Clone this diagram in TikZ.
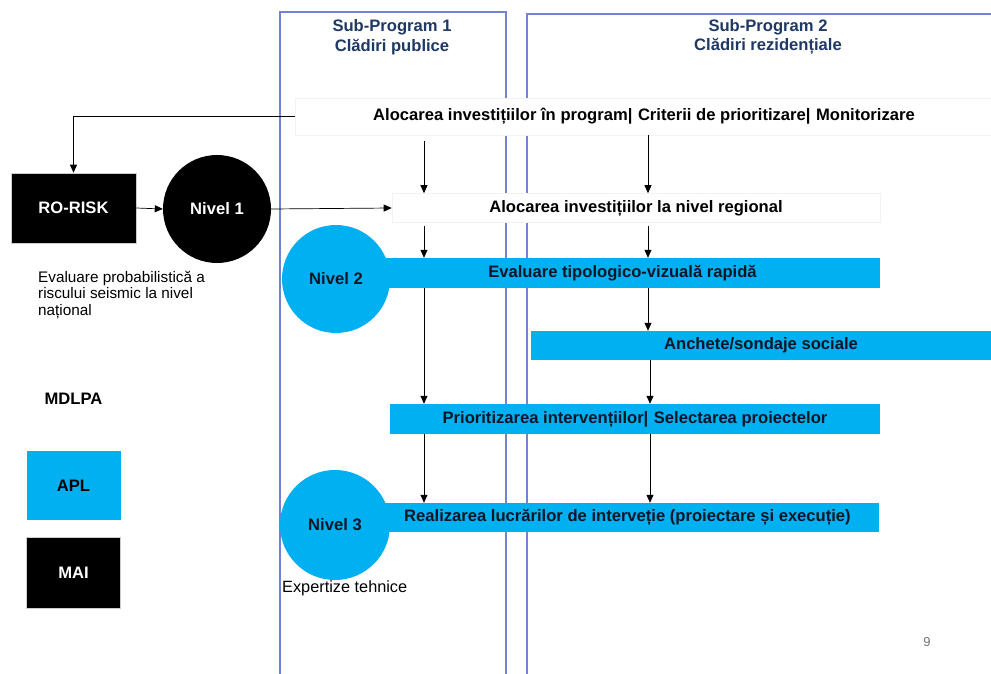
\documentclass[tikz,border=0pt]{standalone}
\usepackage{fontspec}
\setmainfont{Liberation Sans}
\usetikzlibrary{arrows.meta,calc}

\definecolor{skyblue}{HTML}{00B0F0}
\definecolor{framecol}{HTML}{7383D4}
\definecolor{navy}{HTML}{1F3864}
\definecolor{bartext}{HTML}{0B1626}

\tikzset{
  bigbold/.style={font=\fontsize{16.6}{19.5}\selectfont\bfseries},
  plain/.style={font=\fontsize{15.3}{16.3}\selectfont},
  whitebox/.style={rectangle, fill=white, draw=black!5, line width=0.6pt, inner sep=0pt, bigbold, text=black},
  bluebar/.style={rectangle, fill=skyblue, draw=none, inner sep=0pt, bigbold, text=bartext},
  blackbox/.style={rectangle, fill=black, draw=black!20, line width=0.6pt, inner sep=0pt, bigbold, text=white},
  levelcirc/.style={circle, inner sep=0pt, bigbold},
  frame/.style={draw=framecol, line width=1.2pt},
  arr/.style={draw=black, line width=0.7pt, -{Triangle[length=8pt,width=7pt]}},
}

\begin{document}
\begin{tikzpicture}[x=1pt,y=-1pt]
\useasboundingbox[fill=white] (0,0) rectangle (991,674);

% sub-program frames (open at the bottom / right)
\draw[frame] (280,674) -- (280,12) -- (506,12) -- (506,674);
\draw[frame] (527,674) -- (527,14) -- (991,14);

\node[bigbold, text=navy, align=center] (sp1) at (392,37) {Sub-Program 1\\Clădiri publice};
\node[bigbold, text=navy, align=center] (sp2) at (768,37) {Sub-Program 2\\Clădiri rezidențiale};

% column positions of the vertical flow
\coordinate (c1) at (424,0);
\coordinate (c2) at (648,0);

% main boxes and bars
\node[whitebox, minimum width=698, minimum height=37] (alloc) at (644,116.5)
  {Alocarea investițiilor în program|\,\,Criterii de prioritizare|\,\,Monitorizare};
\node[whitebox, minimum width=488, minimum height=29] (regional) at (636,208)
  {Alocarea investițiilor la nivel regional};
\node[bluebar, minimum width=515, minimum height=30] (eval) at (622.5,273)
  {Evaluare tipologico-vizuală rapidă};
\node[bluebar, minimum width=460, minimum height=29] (anchete) at (761,345.5)
  {Anchete/sondaje sociale};
\node[bluebar, minimum width=490, minimum height=30] (prior) at (635,419)
  {Prioritizarea intervențiilor|\,\,Selectarea proiectelor};
\node[bluebar, minimum width=503, minimum height=29] (realiz) at (627.5,517.5)
  {Realizarea lucrărilor de interveție (proiectare și execuție)};

% level circles
\node[levelcirc, fill=black, text=white, minimum size=108] (nivel1) at (217,209) {Nivel 1};
\node[levelcirc, fill=skyblue, text=bartext, minimum size=108] (nivel2) at (336,279) {Nivel 2};
\node[levelcirc, fill=skyblue, text=bartext, minimum size=110] (nivel3) at (335,525) {Nivel 3};

% left column
\node[blackbox, minimum width=125, minimum height=70] (rorisk) at (73.5,208) {RO-RISK};
\node[plain, anchor=north west, align=left, inner sep=0pt] (evalprob) at (38,271)
  {Evaluare probabilistică a\\riscului seismic la nivel\\național};
\node[whitebox, draw=none, minimum width=94, minimum height=64] (mdlpa) at (73.5,399) {MDLPA};
\node[bluebar, text=black, minimum width=94, minimum height=69] (apl) at (73.5,485.5) {APL};
\node[blackbox, minimum width=94, minimum height=71] (mai) at (73.5,572.5) {MAI};

\node[font=\fontsize{16.3}{18}\selectfont, anchor=north west, inner sep=0pt] (expert) at (282,580) {Expertize tehnice};
\node[font=\fontsize{13}{15}\selectfont, text=black!55] (pagenum) at (927,642) {9};

% connectors
\draw[arr] (alloc.west) -| (rorisk.north);
\draw[arr] (rorisk.east) -- (nivel1.west);
\draw[arr] (nivel1.east) -- (regional.west);

\draw[arr, shorten <=6pt] (alloc.south -| c1) -- (regional.north -| c1);
\draw[arr] (alloc.south -| c2) -- (regional.north -| c2);

\draw[arr, shorten <=3pt] (regional.south -| c1) -- (eval.north -| c1);
\draw[arr, shorten <=3pt] (regional.south -| c2) -- (eval.north -| c2);

\draw[arr] (eval.south -| c2) -- (anchete.north -| c2);
\draw[arr] (eval.south -| c1) -- (prior.north -| c1);
\draw[arr] ([xshift=2pt]anchete.south -| c2) -- ([xshift=2pt]prior.north -| c2);

\draw[arr] (prior.south -| c1) -- (realiz.north -| c1);
\draw[arr] ([xshift=2pt]prior.south -| c2) -- ([xshift=2pt]realiz.north -| c2);
\end{tikzpicture}
\end{document}
